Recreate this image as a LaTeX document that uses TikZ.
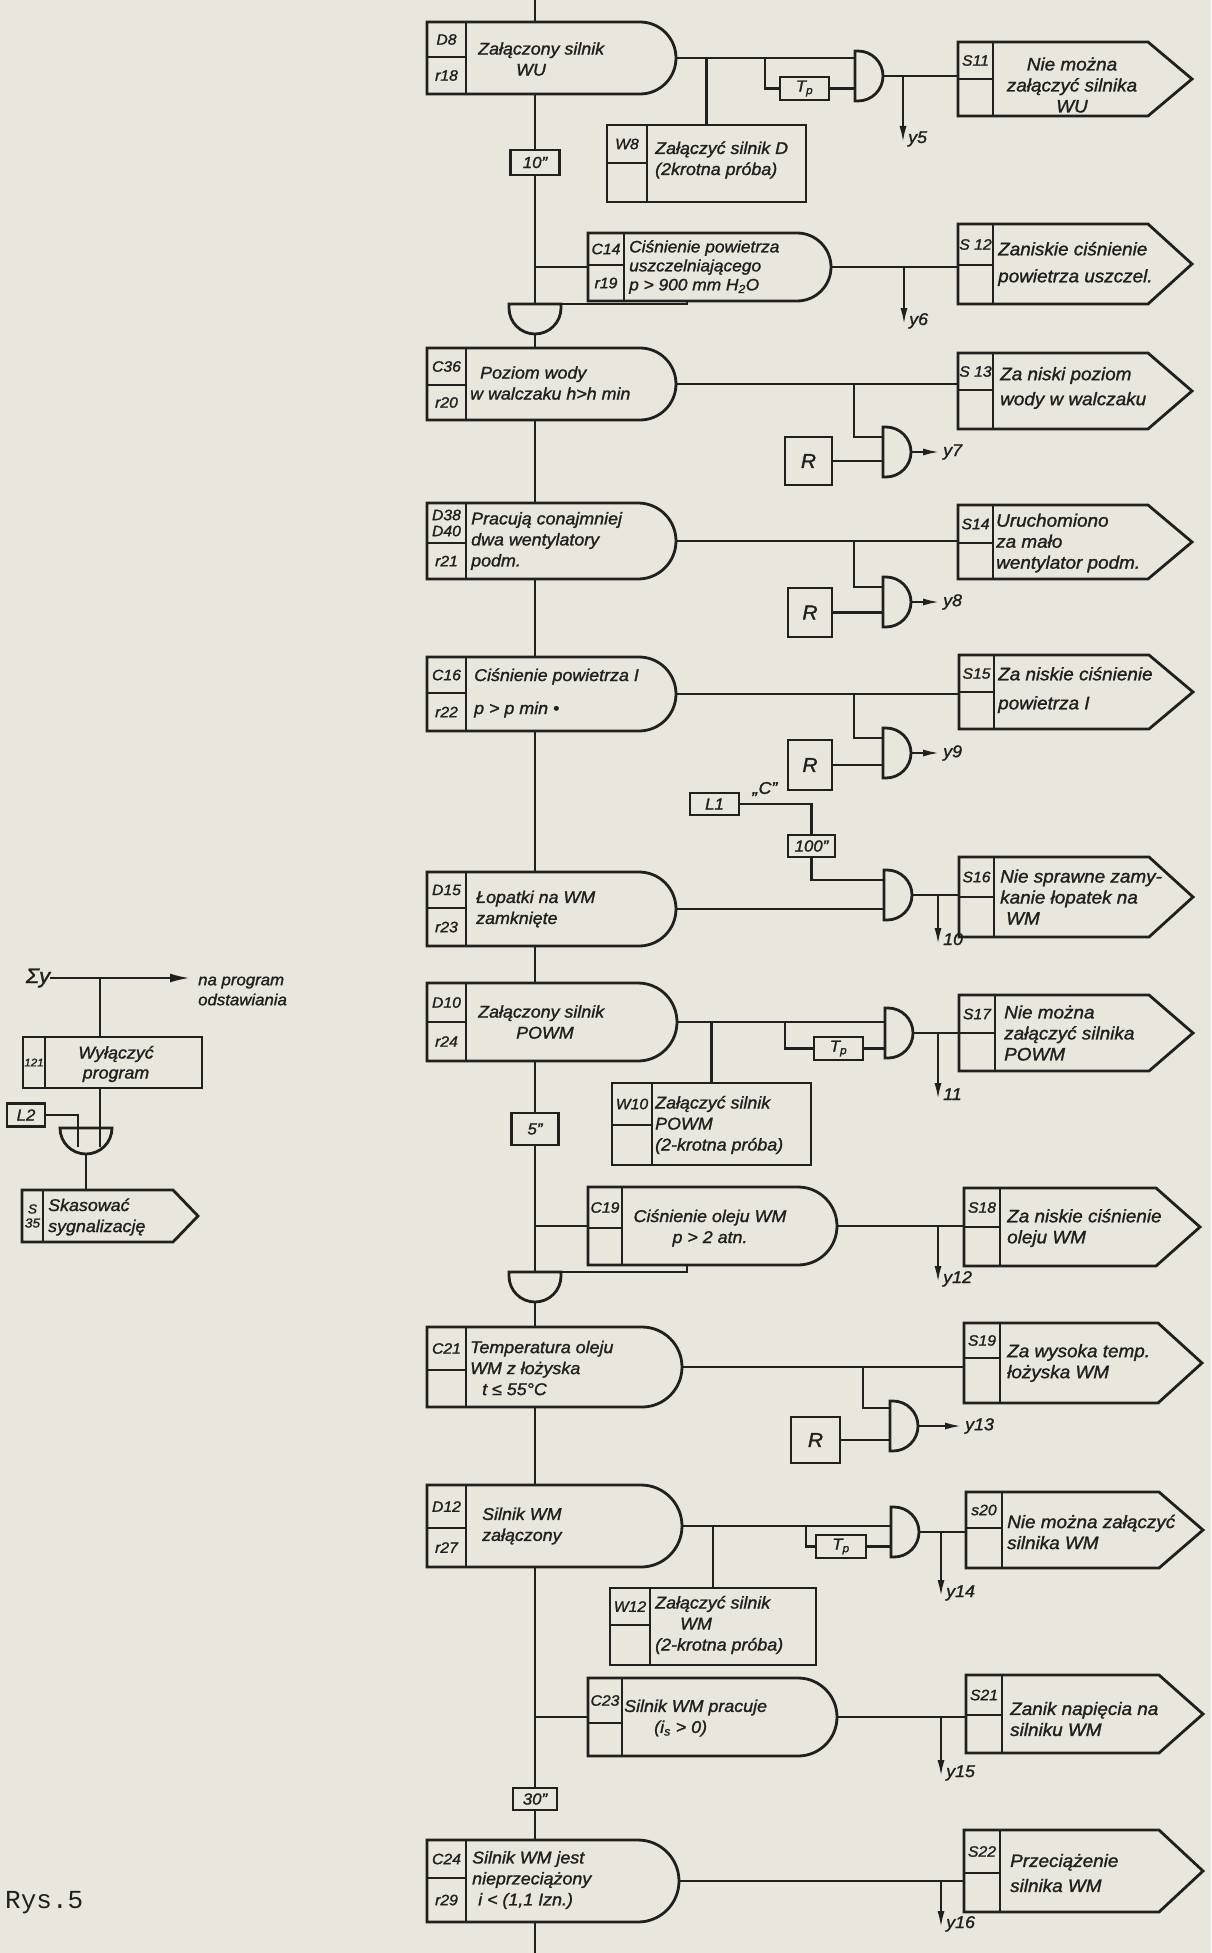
\documentclass[tikz,border=0pt]{standalone}
\usepackage{fontspec}
\setmainfont{Liberation Sans}[FakeStretch=1.05, FakeBold=1.4]
\newfontfamily\rysmono{Liberation Mono}
\usetikzlibrary{arrows.meta}
\definecolor{paper}{RGB}{232,230,221}
\definecolor{ink}{RGB}{34,32,30}

\begin{document}
\begin{tikzpicture}[x=1pt, y=-1pt,
  every node/.style = {text=ink},
  rys5line/.style = {draw=ink, line width=2.8pt},
  rys5wire/.style = {draw=ink, line width=2.4pt},
  rys5arr/.style = {rys5wire, -{Latex[length=17pt, width=7pt]}},
  rys5blk/.style = {rectangle, inner sep=0pt, outer sep=0pt},
  rys5box/.style = {rys5blk, rys5line},
  rys5id/.style = {rys5box, align=center, font=\fontsize{15}{16}\selectfont\itshape},
  rys5txt/.style = {inner sep=0pt, align=left, font=\fontsize{17}{21}\selectfont\itshape},
  rys5stxt/.style = {rys5txt, font=\fontsize{18}{21}\selectfont\itshape},
  rys5lbl/.style = {inner sep=0pt, font=\fontsize{17}{18}\selectfont\itshape},
  rys5gate/.style = {rys5blk, minimum width=28pt, minimum height=50pt},
  rys5dgate/.style = {rys5blk, minimum width=52pt, minimum height=30pt},
  rys5tm/.style = {rys5box, font=\fontsize{16}{17}\selectfont\itshape}
]
  % paper
  \useasboundingbox (0,0) rectangle (1211,1953);
  \fill[paper] (0,0) rectangle (1211,1953);
  \coordinate (top) at (535,0);
  \coordinate (bot) at (535,1953);

  % condition blocks on the main line
  \node[rys5blk, minimum width=249pt, minimum height=72pt] (d8) at (551.5,58) {};
  \node[rys5blk, minimum width=249pt, minimum height=72pt] (c36) at (551.5,384) {};
  \node[rys5blk, minimum width=249pt, minimum height=76pt] (d38) at (551.5,541) {};
  \node[rys5blk, minimum width=249pt, minimum height=74pt] (c16) at (551.5,694) {};
  \node[rys5blk, minimum width=249pt, minimum height=74pt] (d15) at (551.5,909) {};
  \node[rys5blk, minimum width=250pt, minimum height=78pt] (d10) at (552,1022) {};
  \node[rys5blk, minimum width=255pt, minimum height=80pt] (c21) at (554.5,1367) {};
  \node[rys5blk, minimum width=255pt, minimum height=82pt] (d12) at (554.5,1526) {};
  \node[rys5blk, minimum width=252pt, minimum height=82pt] (c24) at (553,1881) {};
  % condition blocks beside the main line
  \node[rys5blk, minimum width=243pt, minimum height=68pt] (c14) at (709.5,267) {};
  \node[rys5blk, minimum width=249pt, minimum height=78pt] (c19) at (712.5,1226) {};
  \node[rys5blk, minimum width=249pt, minimum height=78pt] (c23) at (712.5,1717) {};
  % action boxes
  \node[rys5box, minimum width=199pt, minimum height=77pt] (w8) at (706.5,163.5) {};
  \node[rys5box, minimum width=199pt, minimum height=82pt] (w10) at (711.5,1124) {};
  \node[rys5box, minimum width=206pt, minimum height=77pt] (w12) at (713,1626.5) {};
  % signal boxes
  \node[rys5blk, minimum width=234pt, minimum height=74pt] (s11) at (1075,79) {};
  \node[rys5blk, minimum width=234pt, minimum height=80pt] (s12) at (1075,264) {};
  \node[rys5blk, minimum width=234pt, minimum height=76pt] (s13) at (1075,391) {};
  \node[rys5blk, minimum width=234pt, minimum height=74pt] (s14) at (1075,542) {};
  \node[rys5blk, minimum width=234pt, minimum height=74pt] (s15) at (1076,692) {};
  \node[rys5blk, minimum width=234pt, minimum height=80pt] (s16) at (1076,897) {};
  \node[rys5blk, minimum width=234pt, minimum height=76pt] (s17) at (1076,1033) {};
  \node[rys5blk, minimum width=236pt, minimum height=78pt] (s18) at (1082,1227) {};
  \node[rys5blk, minimum width=238pt, minimum height=80pt] (s19) at (1083,1363) {};
  \node[rys5blk, minimum width=237pt, minimum height=76pt] (s20) at (1084.5,1530) {};
  \node[rys5blk, minimum width=237pt, minimum height=78pt] (s21) at (1084.5,1714) {};
  \node[rys5blk, minimum width=239pt, minimum height=82pt] (s22) at (1083.5,1871) {};
  \node[rys5blk, minimum width=176pt, minimum height=52pt] (s35) at (110,1216) {};

  % gates
  \node[rys5gate] (g1) at (869,76) {};
  \node[rys5gate] (g2) at (897,452) {};
  \node[rys5gate] (g3) at (897,602) {};
  \node[rys5gate] (g4) at (897,753) {};
  \node[rys5gate] (g5) at (898,895) {};
  \node[rys5gate] (g6) at (899,1033) {};
  \node[rys5gate] (g7) at (904,1426) {};
  \node[rys5gate] (g8) at (905,1532) {};
  \node[rys5dgate] (ga) at (535,319) {};
  \node[rys5dgate] (gb) at (535,1287) {};
  \node[rys5dgate, minimum height=26pt] (gl) at (86,1141) {};

  % outlines
  \foreach \n/\rr in {d8/36, c36/36, d38/38, c16/37, d15/37, d10/39, c21/40, d12/41,
      c24/41, c14/34, c19/39, c23/39, g1/25, g2/25, g3/25, g4/25, g5/25, g6/25, g7/25, g8/25}
    \draw[rys5line] (\n.north west) -- ([xshift=-\rr pt]\n.north east)
      arc[start angle=-90, end angle=90, radius=\rr] -- (\n.south west) -- cycle;
  \foreach \n in {ga, gb, gl}
    \draw[rys5line] ([yshift=26pt]\n.south west) -- (\n.north west) -- (\n.north east)
      -- ([yshift=26pt]\n.south east) arc[start angle=0, end angle=180, radius=26] -- cycle;
  \foreach \n/\tip in {s11/44, s12/44, s13/44, s14/44, s15/44, s16/44, s17/44, s18/44,
      s19/44, s20/44, s21/44, s22/44, s35/25}
    \draw[rys5line] (\n.north west) -- ([xshift=-\tip pt]\n.north east) -- (\n.east)
      -- ([xshift=-\tip pt]\n.south east) -- (\n.south west) -- cycle;

  % number cells
  \foreach \n/\w/\ha/\hb/\la/\lb in {d8/39/35/37/D8/r18, c36/39/37/35/C36/r20,
      d38/39/40/36/{D38\\D40}/r21, c16/39/36/38/C16/r22, d15/39/36/38/D15/r23,
      d10/39/39/39/D10/r24, c21/39/43/37/C21/{}, d12/39/43/39/D12/r27,
      c24/39/38/44/C24/r29, c14/36/32/36/C14/r19, c19/34/41/37/C19/{},
      c23/34/45/33/C23/{}, w8/40/38/39/W8/{}, w10/40/42/40/W10/{}, w12/40/37/40/W12/{},
      s11/35/37/37/S11/{}, s12/35/41/39/S 12/{}, s13/35/37/39/S 13/{},
      s14/35/38/36/S14/{}, s15/35/37/37/S15/{}, s16/35/40/40/S16/{},
      s17/36/38/38/S17/{}, s18/36/39/39/S18/{}, s19/36/35/45/S19/{},
      s20/36/36/40/s20/{}, s21/36/40/38/S21/{}, s22/36/43/39/S22/{}}
  {
    \node[rys5id, minimum width=\w pt, minimum height=\ha pt, anchor=north west]
      (\n-i1) at (\n.north west) {\la};
    \node[rys5id, minimum width=\w pt, minimum height=\hb pt, anchor=north west]
      (\n-i2) at (\n-i1.south west) {\lb};
  }

  % texts of the condition blocks
  \node[rys5txt, anchor=west] (d8t) at (478,59) {Załączony silnik\\\hspace{38pt}WU};
  \node[rys5txt, anchor=west, font=\fontsize{16.5}{19}\selectfont\itshape] (c14t) at (629,267)
    {Ciśnienie powietrza\\uszczelniającego\\p > 900 mm H\textsubscript{2}O};
  \node[rys5txt, anchor=west] (c36t) at (470,383) {\hspace{10pt}Poziom wody\\w walczaku h>h min};
  \node[rys5txt, anchor=west] (d38t) at (471,541) {Pracują conajmniej\\dwa wentylatory\\podm.};
  \node[rys5txt, anchor=west] (c16t) at (474,693) {Ciśnienie powietrza I\\[12pt]p > p min •};
  \node[rys5txt, anchor=west] (d15t) at (476,909) {Łopatki na WM\\zamknięte};
  \node[rys5txt, anchor=west] (d10t) at (478,1022) {Załączony silnik\\\hspace{38pt}POWM};
  \node[rys5txt, align=center] (c19t) at (710,1228) {Ciśnienie oleju WM\\p > 2 atn.};
  \node[rys5txt, anchor=west] (c21t) at (470,1368)
    {Temperatura oleju\\WM z łożyska\\\hspace{12pt}t ≤ 55°C};
  \node[rys5txt, anchor=west] (d12t) at (482,1526) {Silnik WM\\załączony};
  \node[rys5txt, anchor=west] (c23t) at (624,1718)
    {Silnik WM pracuje\\\hspace{30pt}(i\textsubscript{s} > 0)};
  \node[rys5txt, anchor=west] (c24t) at (472,1880)
    {Silnik WM jest\\nieprzeciążony\\\hspace{6pt}i < (1,1 Izn.)};
  % texts of the action boxes
  \node[rys5txt, anchor=west] (w8t) at (655,160) {Załączyć silnik D\\(2krotna próba)};
  \node[rys5txt, anchor=west] (w10t) at (655,1125) {Załączyć silnik\\POWM\\(2-krotna próba)};
  \node[rys5txt, anchor=west] (w12t) at (655,1625) {Załączyć silnik\\\hspace{25pt}WM\\(2-krotna próba)};
  % texts of the signal boxes
  \node[rys5stxt, align=center] (s11t) at (1072,85) {Nie można\\załączyć silnika\\WU};
  \node[rys5stxt, anchor=west] (s12t) at (998,264) {Zaniskie ciśnienie\\[6pt]powietrza uszczel.};
  \node[rys5stxt, anchor=west] (s13t) at (1000,388) {Za niski poziom\\[4pt]wody w walczaku};
  \node[rys5stxt, anchor=west] (s14t) at (996,543) {Uruchomiono\\za mało\\wentylator podm.};
  \node[rys5stxt, anchor=west] (s15t) at (998,690) {Za niskie ciśnienie\\[8pt]powietrza I};
  \node[rys5stxt, anchor=west] (s16t) at (1000,897) {Nie sprawne zamy-\\kanie łopatek na\\\hspace{6pt}WM};
  \node[rys5stxt, anchor=west] (s17t) at (1004,1033) {Nie można\\załączyć silnika\\POWM};
  \node[rys5stxt, anchor=west] (s18t) at (1007,1228) {Za niskie ciśnienie\\oleju WM};
  \node[rys5stxt, anchor=west] (s19t) at (1007,1363) {Za wysoka temp.\\łożyska WM};
  \node[rys5stxt, anchor=west] (s20t) at (1007,1532) {Nie można załączyć\\silnika WM};
  \node[rys5stxt, anchor=west] (s21t) at (1010,1719) {Zanik napięcia na\\silniku WM};
  \node[rys5stxt, anchor=west] (s22t) at (1010,1873) {Przeciążenie\\[4pt]silnika WM};

  % timers, inputs
  \node[rys5tm, minimum width=49pt, minimum height=25pt] (t10) at (535,162.5) {10"};
  \node[rys5tm, minimum width=47pt, minimum height=32pt] (t5) at (535,1129) {5"};
  \node[rys5tm, minimum width=44pt, minimum height=22pt] (t30) at (535,1799) {30"};
  \node[rys5tm, minimum width=47pt, minimum height=22pt] (t100) at (811.5,846) {100"};
  \node[rys5tm, minimum width=49pt, minimum height=23pt] (tp1) at (804.5,88.5) {T\textsubscript{p}};
  \node[rys5tm, minimum width=49pt, minimum height=23pt] (tp2) at (838.5,1048.5) {T\textsubscript{p}};
  \node[rys5tm, minimum width=50pt, minimum height=23pt] (tp3) at (841,1546.5) {T\textsubscript{p}};
  \node[rys5tm, minimum width=47pt, minimum height=48pt, font=\fontsize{20}{21}\selectfont\itshape] (r2) at (808.5,461) {R};
  \node[rys5tm, minimum width=44pt, minimum height=49pt, font=\fontsize{20}{21}\selectfont\itshape] (r3) at (810,612.5) {R};
  \node[rys5tm, minimum width=44pt, minimum height=50pt, font=\fontsize{20}{21}\selectfont\itshape] (r4) at (810,765) {R};
  \node[rys5tm, minimum width=49pt, minimum height=46pt, font=\fontsize{20}{21}\selectfont\itshape] (r7) at (815.5,1440) {R};
  \node[rys5tm, minimum width=49pt, minimum height=22pt] (l1) at (714.5,804) {L1};
  \node[rys5lbl] (l1c) at (765,789) {„C”};

  % main line
  \begin{scope}[rys5wire]
    \draw (top) -- (d8.north -| top);
    \draw (d8.south -| top) -- (t10.north);
    \draw (t10.south) -- (ga.north);
    \draw (c14.west) -- (c14.west -| top);
    \draw ([xshift=99pt]c14.south west) |- (ga.north east);
    \draw (ga.south) -- (c36.north -| top);
    \draw (c36.south -| top) -- (d38.north -| top);
    \draw (d38.south -| top) -- (c16.north -| top);
    \draw (c16.south -| top) -- (d15.north -| top);
    \draw (d15.south -| top) -- (d10.north -| top);
    \draw (d10.south -| top) -- (t5.north);
    \draw (t5.south) -- (gb.north);
    \draw (c19.west) -- (c19.west -| top);
    \draw ([xshift=99pt]c19.south west) |- (gb.north east);
    \draw (gb.south) -- (c21.north -| top);
    \draw (c21.south -| top) -- (d12.north -| top);
    \draw (d12.south -| top) -- (t30.north);
    \draw (c23.west) -- (c23.west -| top);
    \draw (t30.south) -- (c24.north -| top);
    \draw (c24.south -| top) -- (bot);

    % D8
    \draw (d8.east) -- (d8.east -| g1.west);
    \draw (w8.north) -- (w8.north |- d8.east);
    \draw (tp1.west) -| ([xshift=-15pt]tp1.west |- d8.east);
    \draw (tp1.east) -- (tp1.east -| g1.west);
    \draw (g1.east) -- (g1.east -| s11.west);
    % C14
    \draw (c14.east) -- (c14.east -| s12.west);
    % C36
    \draw (c36.east) -- (c36.east -| s13.west);
    \draw ([yshift=15pt]g2.west) -| ([xshift=-29pt]g2.west |- c36.east);
    \draw (r2.east) -- (r2.east -| g2.west);
    % D38
    \draw (d38.east) -- (d38.east -| s14.west);
    \draw ([yshift=15pt]g3.west) -| ([xshift=-29pt]g3.west |- d38.east);
    \draw (r3.east) -- (r3.east -| g3.west);
    % C16
    \draw (c16.east) -- (c16.east -| s15.west);
    \draw ([yshift=15pt]g4.west) -| ([xshift=-29pt]g4.west |- c16.east);
    \draw (r4.east) -- (r4.east -| g4.west);
    % D15
    \draw (d15.east) -- (d15.east -| g5.west);
    \draw (l1.east) -| (t100.north);
    \draw (t100.south) |- ([yshift=15pt]g5.west);
    \draw (g5.east) -- (g5.east -| s16.west);
    % D10
    \draw (d10.east) -- (d10.east -| g6.west);
    \draw (w10.north) -- (w10.north |- d10.east);
    \draw (tp2.west) -| ([xshift=-29pt]tp2.west |- d10.east);
    \draw (tp2.east) -- (tp2.east -| g6.west);
    \draw (g6.east) -- (g6.east -| s17.west);
    % C19
    \draw (c19.east) -- (c19.east -| s18.west);
    % C21
    \draw (c21.east) -- (c21.east -| s19.west);
    \draw ([yshift=18pt]g7.west) -| ([xshift=-27pt]g7.west |- c21.east);
    \draw (r7.east) -- (r7.east -| g7.west);
    % D12
    \draw (d12.east) -- (d12.east -| g8.west);
    \draw (w12.north) -- (w12.north |- d12.east);
    \draw (tp3.west) -| ([xshift=-10pt]tp3.west |- d12.east);
    \draw (tp3.east) -- (tp3.east -| g8.west);
    \draw (g8.east) -- (g8.east -| s20.west);
    % C23, C24
    \draw (c23.east) -- (c23.east -| s21.west);
    \draw (c24.east) -- (c24.east -| s22.west);
  \end{scope}

  % outputs y
  \coordinate (y5e) at (903,143);
  \coordinate (y6e) at (904,325);
  \coordinate (y10e) at (938,945);
  \coordinate (y11e) at (938,1100);
  \coordinate (y12e) at (938,1283);
  \coordinate (y14e) at (941,1597);
  \coordinate (y15e) at (941,1777);
  \coordinate (y16e) at (941,1928);
  \draw[rys5arr] (y5e |- g1.east) -- (y5e);
  \draw[rys5arr] (y6e |- c14.east) -- (y6e);
  \draw[rys5arr] (y10e |- g5.east) -- (y10e);
  \draw[rys5arr] (y11e |- g6.east) -- (y11e);
  \draw[rys5arr] (y12e |- c19.east) -- (y12e);
  \draw[rys5arr] (y14e |- g8.east) -- (y14e);
  \draw[rys5arr] (y15e |- c23.east) -- (y15e);
  \draw[rys5arr] (y16e |- c24.east) -- (y16e);
  \node[rys5lbl, anchor=base west] (y5) at ([xshift=5pt]y5e) {y5};
  \node[rys5lbl, anchor=base west] (y6) at ([xshift=5pt]y6e) {y6};
  \node[rys5lbl, anchor=base west] (y10) at ([xshift=5pt]y10e) {10};
  \node[rys5lbl, anchor=base west] (y11) at ([xshift=5pt]y11e) {11};
  \node[rys5lbl, anchor=base west] (y12) at ([xshift=5pt]y12e) {y12};
  \node[rys5lbl, anchor=base west] (y14) at ([xshift=5pt]y14e) {y14};
  \node[rys5lbl, anchor=base west] (y15) at ([xshift=5pt]y15e) {y15};
  \node[rys5lbl, anchor=base west] (y16) at ([xshift=5pt]y16e) {y16};
  \coordinate (y7e) at (940,452);
  \coordinate (y8e) at (940,602);
  \coordinate (y9e) at (940,753);
  \coordinate (y13e) at (962,1426);
  \draw[rys5arr] (g2.east) -- (y7e);
  \draw[rys5arr] (g3.east) -- (y8e);
  \draw[rys5arr] (g4.east) -- (y9e);
  \draw[rys5arr] (g7.east) -- (y13e);
  \node[rys5lbl, anchor=west] (y7) at ([xshift=3pt]y7e) {y7};
  \node[rys5lbl, anchor=west] (y8) at ([xshift=3pt]y8e) {y8};
  \node[rys5lbl, anchor=west] (y9) at ([xshift=3pt]y9e) {y9};
  \node[rys5lbl, anchor=west] (y13) at ([xshift=3pt]y13e) {y13};

  % left part
  \node[rys5txt, font=\fontsize{21}{22}\selectfont\itshape] (sy) at (38,978) {Σy};
  \node[rys5txt, anchor=west, font=\fontsize{16}{20}\selectfont\itshape] (odst) at (198,991)
    {na program\\odstawiania};
  \node[rys5box, minimum width=179pt, minimum height=51pt] (wyl) at (112.5,1062.5) {};
  \node[rys5id, minimum width=22pt, minimum height=51pt, anchor=north west,
    font=\fontsize{11}{12}\selectfont\itshape] (wyl-i1) at (wyl.north west) {121};
  \node[rys5txt, align=center, font=\fontsize{17}{20}\selectfont\itshape] (wylt) at (116,1064)
    {Wyłączyć\\program};
  \node[rys5tm, minimum width=38pt, minimum height=23pt] (l2) at (26,1115) {L2};
  \node[rys5id, minimum width=21pt, minimum height=52pt, anchor=north west,
    font=\fontsize{13}{14}\selectfont\itshape] (s35-i1) at (s35.north west) {S\\35};
  \node[rys5txt, anchor=west] (s35t) at (48,1217) {Skasować\\sygnalizację};
  \coordinate (in1) at (100,1147);
  \coordinate (in2) at (78,1147);
  \draw[rys5arr, -{Latex[length=20pt, width=9pt]}] (sy.east) -- ([xshift=-8pt]odst.west |- sy.east);
  \draw[rys5wire] (sy.east -| in1) -- (wyl.north -| in1);
  \draw[rys5wire] (wyl.south -| in1) -- (in1);
  \draw[rys5wire] (l2.east) -| (in2);
  \draw[rys5wire] (gl.south) -- (s35.north -| gl.south);

  \node[font=\rysmono\fontsize{26}{28}\selectfont, anchor=west, inner sep=0pt] (rys) at (5,1903) {Rys.5};
\end{tikzpicture}
\end{document}
